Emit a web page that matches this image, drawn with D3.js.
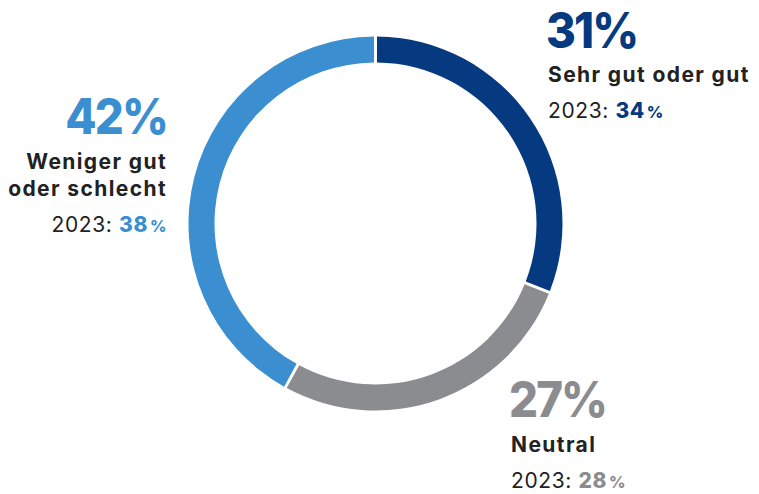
<!DOCTYPE html>
<html>
<head>
<meta charset="utf-8">
<script src="https://cdn.jsdelivr.net/npm/d3@7"></script>
<style>
  html, body { margin: 0; padding: 0; background: #fff; }
  svg { display: block; font-family: "Inter", "Open Sans", sans-serif; }
</style>
</head>
<body>
<svg id="chart" width="759" height="494"></svg>
<script>
// Survey shares (percent), current year and previous year
const categories = ["Sehr gut oder gut", "Neutral", "Weniger gut oder schlecht"];
const labelLines = [["Sehr gut oder gut"], ["Neutral"], ["Weniger gut", "oder schlecht"]];
const values = [31, 27, 42];
const values2023 = [34, 28, 38];
const prevYearLabel = "2023";
const colors = ["#063a80", "#8b8c90", "#3b8fd0"];

const svg = d3.select("#chart");
const cx = 375.5, cy = 223.5;
const outerR = 187, innerR = 161;

const pie = d3.pie().sort(null).value(d => d).startAngle(0).endAngle(2 * Math.PI);
const arc = d3.arc().innerRadius(innerR).outerRadius(outerR).padAngle(0.012);

const g = svg.append("g").attr("transform", `translate(${cx},${cy})`);
g.selectAll("path")
  .data(pie(values))
  .join("path")
  .attr("d", arc)
  .attr("fill", (d, i) => colors[i]);

// Label blocks: anchor point and alignment per segment
const labelLayout = [
  { x: 548, y: 48, anchor: "start" },
  { x: 511, y: 417, anchor: "start" },
  { x: 167, y: 134, anchor: "end" }
];

categories.forEach((cat, i) => {
  const L = labelLayout[i];
  const block = svg.append("g").attr("text-anchor", L.anchor);

  // Big percentage, slightly condensed
  const bx = L.x - (L.anchor === "start" ? 2 : 0);
  const big = block.append("text")
    .attr("transform", `translate(${bx},${L.y}) scale(0.93,1)`)
    .attr("fill", colors[i])
    .attr("font-weight", 800)
    .attr("font-size", 49)
    .attr("letter-spacing", -2);
  big.append("tspan").text(values[i]);
  big.append("tspan").text("%");

  let y = (i === 0 ? 82 : L.y + 35);
  labelLines[i].forEach((line, k) => {
    if (k > 0) y += 27;
    block.append("text")
      .attr("x", L.x).attr("y", y)
      .attr("fill", "#222")
      .attr("font-weight", 700)
      .attr("font-size", 21)
      .attr("letter-spacing", 1.4)
      .text(line);
  });
  y += 36;

  const prev = block.append("text")
    .attr("x", L.x).attr("y", y)
    .attr("font-size", 21)
    .attr("letter-spacing", 0.6);
  prev.append("tspan").attr("fill", "#222").attr("font-weight", 400).text(prevYearLabel + ": ");
  prev.append("tspan").attr("fill", colors[i]).attr("font-weight", 800).text(values2023[i]);
  prev.append("tspan").attr("fill", colors[i]).attr("font-weight", 800)
    .attr("font-size", 16).attr("dx", 2).text("%");
});
</script>
</body>
</html>
